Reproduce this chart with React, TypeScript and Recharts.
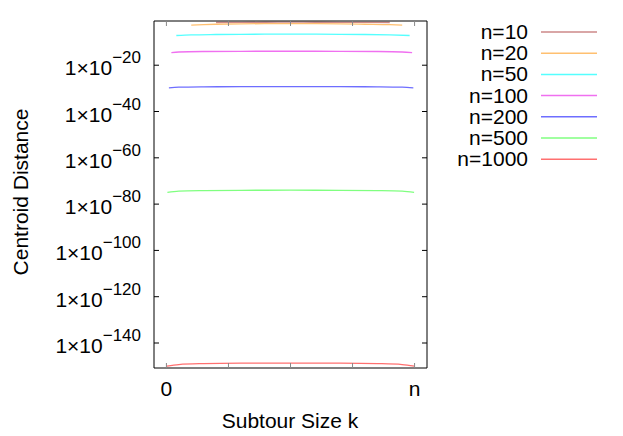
import { LineChart, Line, XAxis, YAxis, Legend } from 'recharts'

// k/n sample positions and centroid distances per tour size
const k10 = [0.2, 0.3, 0.4, 0.5, 0.6, 0.7, 0.8, 0.9]
const d10 = [2.8e-2, 3.3e-2, 3.7e-2, 3.8e-2, 3.7e-2, 3.3e-2, 3e-2, 2.8e-2]

const k20 = [0.1, 0.15, 0.2, 0.3, 0.4, 0.5, 0.6, 0.7, 0.8, 0.9, 0.95]
const d20 = [2e-3, 3.5e-3, 5e-3, 7.5e-3, 9e-3, 9.5e-3, 9e-3, 7.5e-3, 5e-3, 3.2e-3, 2e-3]

const k50 = [0.04, 0.1, 0.2, 0.3, 0.5, 0.7, 0.8, 0.9, 0.98]
const d50 = [7e-8, 1.3e-7, 1.9e-7, 2.3e-7, 2.5e-7, 2.3e-7, 1.9e-7, 1.3e-7, 7e-8]

const k100 = [0.02, 0.05, 0.15, 0.3, 0.5, 0.7, 0.85, 0.95, 0.99]
const d100 = [2.5e-15, 5e-15, 8.5e-15, 1.05e-14, 1.1e-14, 1.05e-14, 8.5e-15, 5e-15, 2.5e-15]

const k200 = [0.01, 0.05, 0.15, 0.3, 0.5, 0.7, 0.85, 0.95, 0.995]
const d200 = [1.6e-30, 3.2e-30, 4.6e-30, 5.4e-30, 5.6e-30, 5.4e-30, 4.6e-30, 3.2e-30, 1.6e-30]

const k500 = [0.004, 0.05, 0.15, 0.3, 0.5, 0.7, 0.85, 0.95, 0.998]
const d500 = [1.3e-75, 4e-75, 7e-75, 9.3e-75, 1e-74, 9.3e-75, 7e-75, 4e-75, 1.3e-75]

const k1000 = [0.002, 0.05, 0.15, 0.3, 0.5, 0.7, 0.85, 0.95, 0.999]
const d1000 = [1.1e-150, 5e-150, 1.25e-149, 2e-149, 2.2e-149, 2e-149, 1.25e-149, 5e-150, 1.1e-150]

const xTicks = [0, 0.25, 0.5, 0.75, 1]
const xTickLabels: Record<number, string> = { 0: '0', 1: 'n' }
const yTicks = [1e-140, 1e-120, 1e-100, 1e-80, 1e-60, 1e-40, 1e-20]

const FONT = '"Liberation Sans", Arial, sans-serif'

const series = [
  { name: 'n=10', ks: k10, ds: d10, color: '#cc8888' },
  { name: 'n=20', ks: k20, ds: d20, color: '#ffc070' },
  { name: 'n=50', ks: k50, ds: d50, color: '#55ffff' },
  { name: 'n=100', ks: k100, ds: d100, color: '#f070f0' },
  { name: 'n=200', ks: k200, ds: d200, color: '#6e6eff' },
  { name: 'n=500', ks: k500, ds: d500, color: '#80ff80' },
  { name: 'n=1000', ks: k1000, ds: d1000, color: '#ff7070' },
]

function LeftTick(props: any) {
  const { x, y, payload } = props
  const exp = Math.round(Math.log10(payload.value))
  return (
    <g>
      <line x1={x} x2={x + 5} y1={y} y2={y} stroke="#000" />
      <text x={x - 13} y={y + 10} textAnchor="end" fontSize={21} fontFamily={FONT} fill="#000">
        1×10
        <tspan dy={-12} fontSize={17}>{'\u2212' + Math.abs(exp)}</tspan>
      </text>
    </g>
  )
}

function RightTick(props: any) {
  const { x, y } = props
  return <line x1={x} x2={x - 5} y1={y} y2={y} stroke="#000" />
}

function BottomTick(props: any) {
  const { x, y, payload } = props
  const label = xTickLabels[payload.value]
  return (
    <g>
      <line x1={x} x2={x} y1={y} y2={y - 5} stroke="#888" />
      {label && (
        <text x={x} y={y + 28} textAnchor="middle" fontSize={21} fontFamily={FONT} fill="#000">
          {label}
        </text>
      )}
    </g>
  )
}

function TopTick(props: any) {
  const { x, y } = props
  return <line x1={x} x2={x} y1={y} y2={y + 5} stroke="#888" />
}

function KeyBox() {
  return (
    <svg width={180} height={160}>
      {series.map((s, i) => {
        const cy = 17 + i * 21.2
        return (
          <g key={s.name}>
            <text x={88} y={cy + 7} textAnchor="end" fontSize={21} fontFamily={FONT} fill="#000">
              {s.name}
            </text>
            <line x1={101} x2={157} y1={cy} y2={cy} stroke={s.color} strokeWidth={1.5} />
          </g>
        )
      })}
    </svg>
  )
}

export default function App() {
  return (
    <div style={{ position: 'absolute', left: 0, top: 0, width: 623, height: 436, background: '#fff' }}>
      <LineChart width={623} height={436} margin={{ top: 20, right: 195, bottom: 0, left: 0 }}>
        <XAxis
          xAxisId="b"
          type="number"
          dataKey="k"
          domain={[-0.05, 1.05]}
          ticks={xTicks}
          allowDataOverflow
          height={68}
          tickSize={0}
          tickMargin={0}
          tickLine={false}
          axisLine={{ stroke: '#000' }}
          tick={<BottomTick />}
          interval={0}
        />
        <XAxis
          xAxisId="t"
          orientation="top"
          type="number"
          dataKey="k"
          domain={[-0.05, 1.05]}
          ticks={xTicks}
          allowDataOverflow
          height={1}
          tickSize={0}
          tickMargin={0}
          tickLine={false}
          axisLine={{ stroke: '#000' }}
          tick={<TopTick />}
          interval={0}
        />
        <YAxis
          yAxisId="l"
          type="number"
          scale="log"
          domain={[1.6e-151, 0.126]}
          ticks={yTicks}
          allowDataOverflow
          width={154}
          tickSize={0}
          tickMargin={0}
          tickLine={false}
          axisLine={{ stroke: '#000' }}
          tick={<LeftTick />}
          interval={0}
        />
        <YAxis
          yAxisId="r"
          orientation="right"
          type="number"
          scale="log"
          domain={[1.6e-151, 0.126]}
          ticks={yTicks}
          allowDataOverflow
          width={1}
          tickSize={0}
          tickMargin={0}
          tickLine={false}
          axisLine={{ stroke: '#000' }}
          tick={<RightTick />}
          interval={0}
        />
        <Legend
          layout="horizontal"
          verticalAlign="middle"
          align="center"
          wrapperStyle={{ position: 'absolute', left: 440, top: 15, width: 180, height: 160 }}
          content={() => <KeyBox />}
        />
        {series.map((s) => (
          <Line
            key={s.name}
            name={s.name}
            xAxisId="b"
            yAxisId="l"
            data={s.ks.map((k, i) => ({ k, d: s.ds[i] }))}
            dataKey="d"
            stroke={s.color}
            strokeWidth={1.3}
            dot={false}
            type="monotone"
            isAnimationActive={false}
          />
        ))}
      </LineChart>
      <div
        style={{
          position: 'absolute',
          left: 21,
          top: 192,
          transform: 'translate(-50%, -50%) rotate(-90deg)',
          fontFamily: FONT,
          fontSize: 21,
          whiteSpace: 'nowrap',
        }}
      >
        Centroid Distance
      </div>
      <div
        style={{
          position: 'absolute',
          left: 290,
          top: 421,
          transform: 'translate(-50%, -50%)',
          fontFamily: FONT,
          fontSize: 21,
          whiteSpace: 'nowrap',
        }}
      >
        Subtour Size k
      </div>
    </div>
  )
}
